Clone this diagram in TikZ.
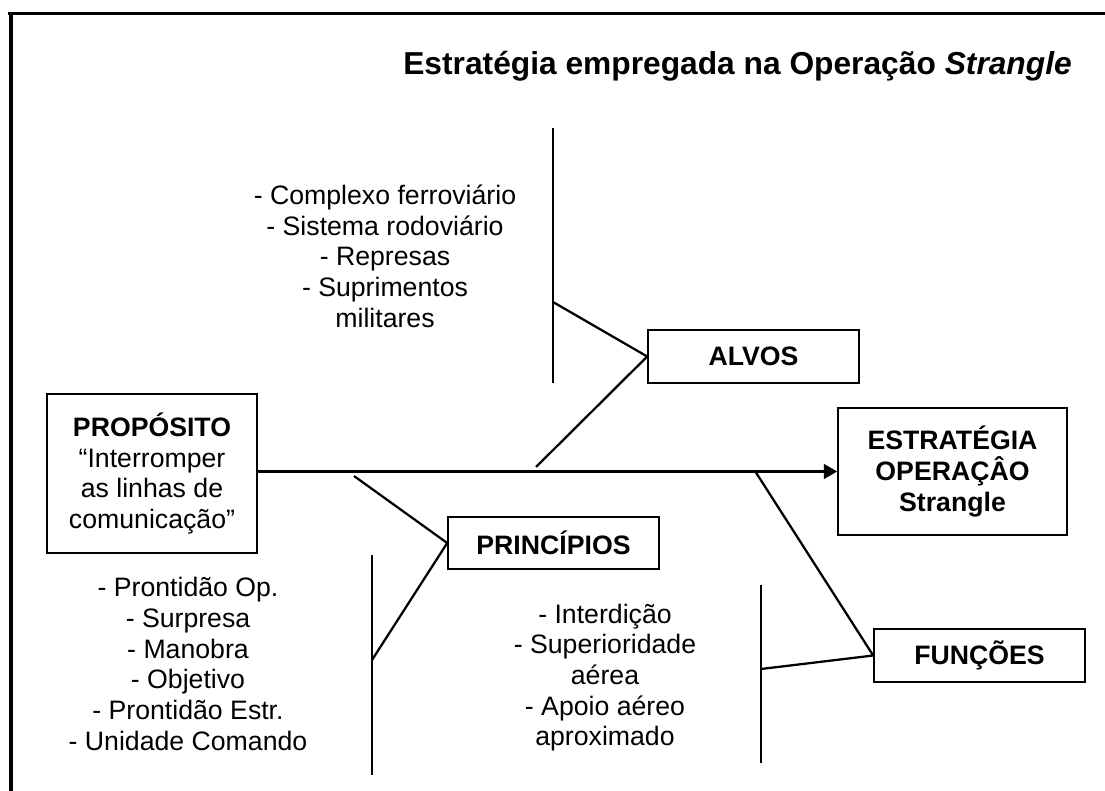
\documentclass[tikz,border=0pt]{standalone}
\usepackage{fontspec}
\setmainfont{Liberation Sans}
\usetikzlibrary{arrows.meta}
\begin{document}
\begin{tikzpicture}[x=0.75pt,y=-0.75pt,
  body/.style={font=\fontsize{20}{23}\selectfont, align=center, inner sep=0pt},
  box/.style={body, draw, line width=1.2pt, font=\fontsize{20}{23}\selectfont\bfseries},
  conn/.style={line width=1.7pt}]
\useasboundingbox (0,0) rectangle (1105,791);
% frame
\coordinate (fr1) at (8,13.5);
\coordinate (fr2) at (1105,13.5);
\coordinate (fr3) at (11,12);
\coordinate (fr4) at (11,791);
\draw[line width=2.3pt] (fr1) -- (fr2);
\draw[line width=3.2pt] (fr3) -- (fr4);
% title
\node[anchor=base east, inner sep=0pt, font=\fontsize{23.8}{28}\selectfont\bfseries] (title) at (1072,75)
  {Estratégia empregada na Operação \textit{Strangle}};
% boxes
\node[box, minimum width=157.5pt, minimum height=119.25pt] (prop) at (152,473.5)
  {PROPÓSITO\\ \mdseries “Interromper\\ \mdseries as linhas de\\ \mdseries comunicação”};
\node[box, minimum width=158.25pt, minimum height=39.75pt] (alvos) at (753.5,356.5) {ALVOS};
\node[box, minimum width=171.75pt, minimum height=95.25pt] (estr) at (952.5,471.5)
  {ESTRATÉGIA\\ OPERAÇÂO\\ Strangle};
\node[box, minimum width=158.25pt, minimum height=39pt] (princ) at (553.5,543) {PRINCÍPIOS};
\node[box, minimum width=158.25pt, minimum height=39.75pt] (func) at (979.5,655.5) {FUNÇÕES};
% lists
\node[body] (alist) at (385,256)
  {- Complexo ferroviário\\ - Sistema rodoviário\\ - Represas\\ - Suprimentos\\ militares};
\node[body] (plist) at (188,664)
  {- Prontidão Op.\\ - Surpresa\\ - Manobra\\ - Objetivo\\ - Prontidão Estr.\\ - Unidade Comando};
\node[body] (flist) at (605,677.5)
  {- Interdição\\ - Superioridade\\ aérea\\ - Apoio aéreo\\ aproximado};
% spine
\draw[conn, -{Triangle[length=10pt,width=11pt]}] (prop.east |- estr.west) -- (estr.west);
% alvos branch
\coordinate (aTop) at (553,128);
\coordinate (aBot) at (553,383);
\coordinate (aJoin) at (553,302);
\coordinate (aFoot) at (536,467);
\draw[conn] (aTop) -- (aBot);
\draw[conn] (aJoin) -- (alvos.west) -- (aFoot);
% principios branch
\coordinate (pStart) at (354,476);
\coordinate (pJoin) at (372,660);
\coordinate (pTop) at (372,555);
\coordinate (pBot) at (372,775);
\draw[conn] (pTop) -- (pBot);
\draw[conn] (pStart) -- (princ.west) -- (pJoin);
% funcoes branch
\coordinate (fStart) at (755,471);
\coordinate (fJoin) at (761,669);
\coordinate (fTop) at (761,585);
\coordinate (fBot) at (761,763);
\draw[conn] (fTop) -- (fBot);
\draw[conn] (fStart) -- (func.west) -- (fJoin);
\end{tikzpicture}
\end{document}
